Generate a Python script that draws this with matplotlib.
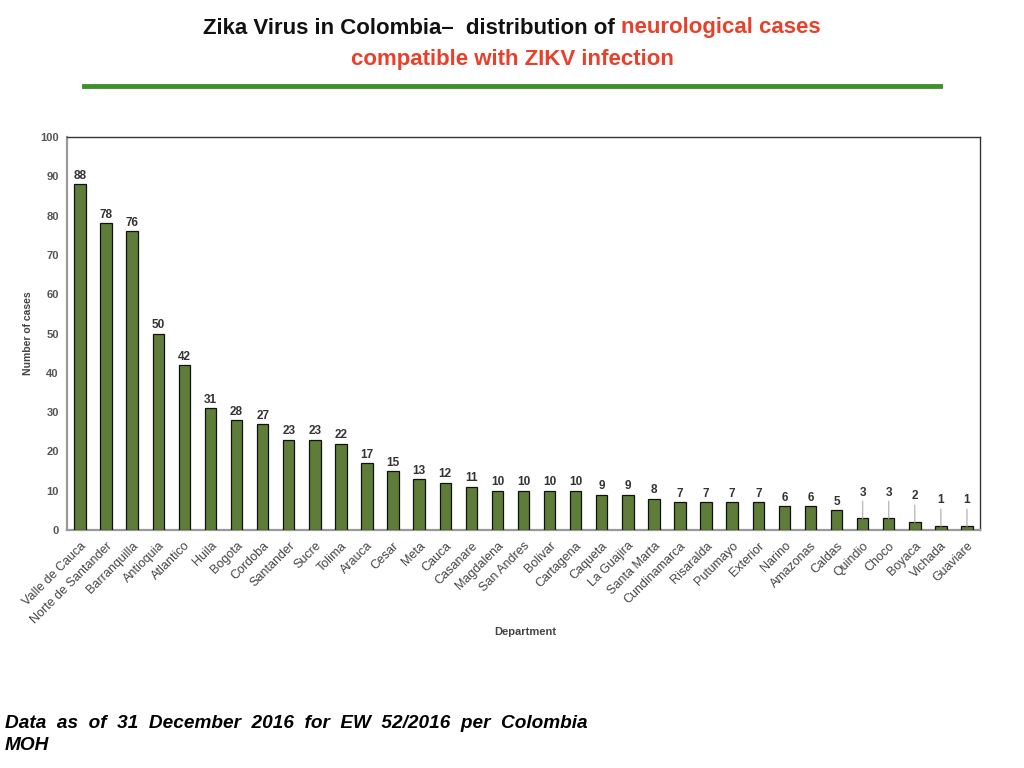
import matplotlib
matplotlib.use("Agg")
import matplotlib.pyplot as plt

departments = ["Valle de Cauca", "Norte de Santander", "Barranquilla", "Antioquia", "Atlantico",
               "Huila", "Bogota", "Cordoba", "Santander", "Sucre", "Tolima", "Arauca", "Cesar",
               "Meta", "Cauca", "Casanare", "Magdalena", "San Andres", "Bolivar", "Cartagena",
               "Caqueta", "La Guajira", "Santa Marta", "Cundinamarca", "Risaralda", "Putumayo",
               "Exterior", "Narino", "Amazonas", "Caldas", "Quindio", "Choco", "Boyaca",
               "Vichada", "Guaviare"]
cases = [88, 78, 76, 50, 42, 31, 28, 27, 23, 23, 22, 17, 15, 13, 12, 11, 10, 10, 10, 10,
         9, 9, 8, 7, 7, 7, 7, 6, 6, 5, 3, 3, 2, 1, 1]
yticks = [0, 10, 20, 30, 40, 50, 60, 70, 80, 90, 100]

plt.rcParams['font.family'] = ['Liberation Sans', 'DejaVu Sans']

fig = plt.figure(figsize=(10.24, 7.68), dpi=100)
ax = fig.add_axes([67/1024, 1-530/768, 913/1024, 393/768])

x = list(range(len(departments)))
ax.bar(x, cases, width=0.44, color="#5d7d39", edgecolor="#111111", linewidth=0.9, zorder=3)

for xi, v in zip(x, cases):
    if v <= 3:
        ax.annotate(str(v), xy=(xi, v), xytext=(xi, v + 5.0), ha="center", va="bottom",
                    fontsize=8.5, fontweight="bold", color="#333333",
                    arrowprops=dict(arrowstyle="-", color="#bbbbbb", lw=1, shrinkA=0, shrinkB=0))
    else:
        ax.text(xi, v + 0.6, str(v), ha="center", va="bottom", fontsize=8.5,
                fontweight="bold", color="#333333")

ax.set_xlim(-0.5, len(departments) - 0.5)
ax.set_ylim(0, 100)
ax.set_yticks(yticks)
ax.set_yticklabels([str(t) for t in yticks], fontsize=8, fontweight="bold", color="#555555")
ax.set_xticks(x)
ax.set_xticklabels(departments, rotation=45, ha="right", rotation_mode="anchor",
                   fontsize=9, color="#444444")
ax.tick_params(axis="both", length=0, pad=6)
ax.tick_params(axis="x", pad=7)

for side in ["left", "bottom"]:
    ax.spines[side].set_color("#999999")
    ax.spines[side].set_linewidth(1.6)
for side in ["top", "right"]:
    ax.spines[side].set_color("#333333")
    ax.spines[side].set_linewidth(1.0)

ax.set_ylabel("Number of cases", fontsize=7.5, fontweight="bold", color="#444444", labelpad=5)
fig.text(525/1024, 1-632/768, "Department", ha="center", va="center", fontsize=8,
         fontweight="bold", color="#444444")

# Title
fig.canvas.draw()
renderer = fig.canvas.get_renderer()
t1 = fig.text(0, 1-28/768, "Zika Virus in Colombia\u2013  distribution of ", ha="left", va="center",
              fontsize=16, fontweight="bold", color="#111111")
t2 = fig.text(0, 1-28/768, "neurological cases", ha="left", va="center",
              fontsize=16, fontweight="bold", color="#e8402a")
w1 = t1.get_window_extent(renderer).width
w2 = t2.get_window_extent(renderer).width
start = 512 - (w1 + w2) / 2
t1.set_x(start / 1024)
t2.set_x((start + w1) / 1024)
fig.text(512/1024, 1-60/768, "compatible with ZIKV infection", ha="center", va="center",
         fontsize=16, fontweight="bold", color="#e8402a")
fig.add_artist(plt.Line2D([84/1024, 940/1024], [1-86/768, 1-86/768], color="#3f8f2a",
                          linewidth=3.5, transform=fig.transFigure))

fig.text(5/1024, 1-724/768, "Data  as  of  31  December  2016  for  EW  52/2016  per  Colombia",
         ha="left", va="center", fontsize=13.7, fontweight="bold", style="italic", color="#000000")
fig.text(5/1024, 1-746/768, "MOH", ha="left", va="center", fontsize=13.7, fontweight="bold",
         style="italic", color="#000000")

fig.savefig("out.png", dpi=100, facecolor="white")
